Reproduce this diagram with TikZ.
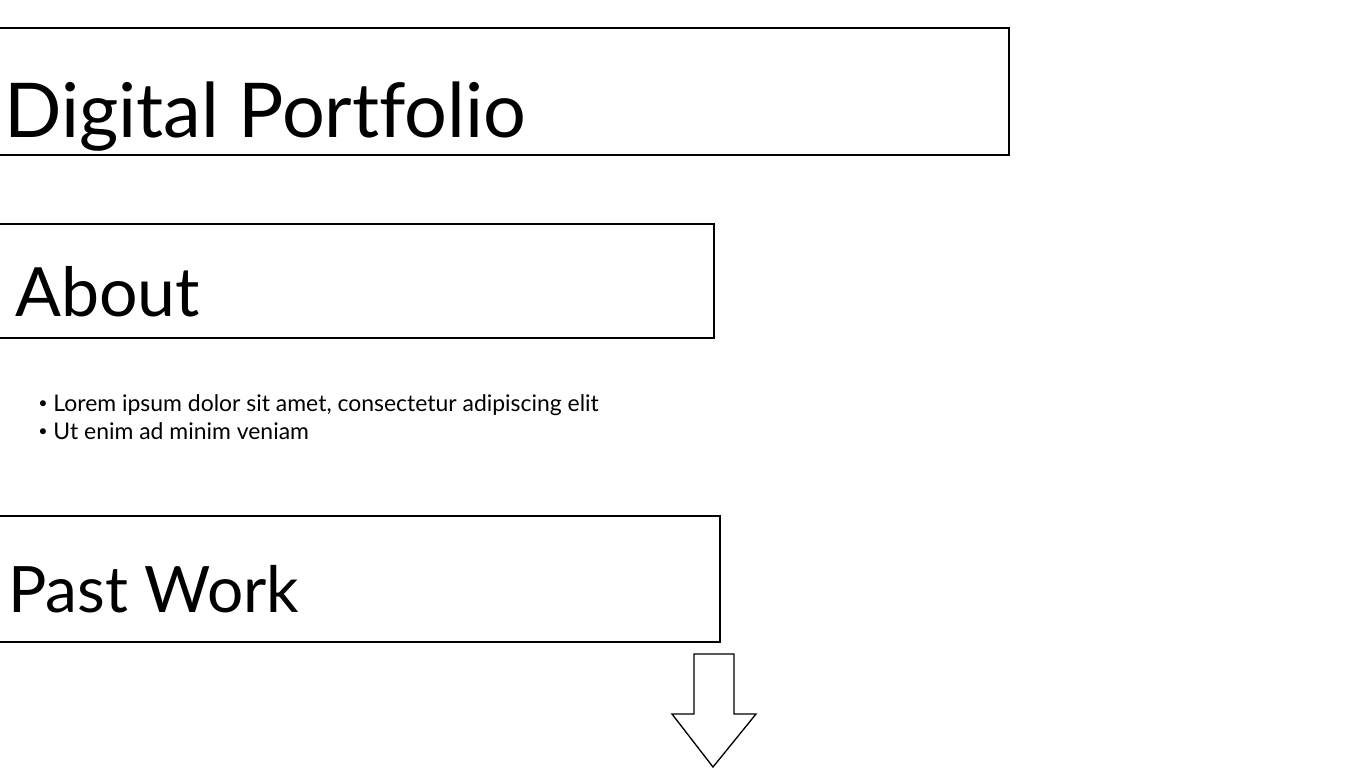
\documentclass[tikz,border=0pt]{standalone}
\usepackage{fontspec}
\setmainfont[Ligatures=NoCommon]{Lato}
\newcommand{\smallbullet}{\raisebox{1.6pt}{\scalebox{0.7}{•}}}
\begin{document}
\begin{tikzpicture}[x=0.75pt,y=-0.75pt,
  section box/.style={draw,line width=1.5pt},
  heading/.style={anchor=base west,inner sep=0pt},
  bullet text/.style={anchor=base west,inner sep=0pt,font=\fontsize{17.2}{20}\selectfont}]
 		\useasboundingbox (0,0) rectangle (1366,768);
 		% boxes
 		\draw[section box] (-10,28) rectangle (1009,155);
 		\draw[section box] (-10,224) rectangle (714,338);
 		\draw[section box] (-10,516) rectangle (720,642);
 		
 		\node[heading,font=\fontsize{56.7}{64}\selectfont] (title) at (4,137) {Digital Portfolio};
 		\node[heading,font=\fontsize{51}{60}\selectfont] (about) at (15,316) {About};
 		\node[heading,font=\fontsize{48}{56}\selectfont] (past) at (8,612) {Past Work};
 		
 		\node[bullet text] (item1) at (38,411) {\smallbullet{} Lorem ipsum dolor sit amet, consectetur adipiscing elit};
 		\node[bullet text] (item2) at (38,439) {\smallbullet{} Ut enim ad minim veniam};
 		
 		% arrow
 		\draw[line width=1pt,line join=miter] (694,654) -- (734,654) -- (734,714) -- (756,714) -- (713,767) -- (672,714) -- (694,714) -- cycle;
\end{tikzpicture}
\end{document}
